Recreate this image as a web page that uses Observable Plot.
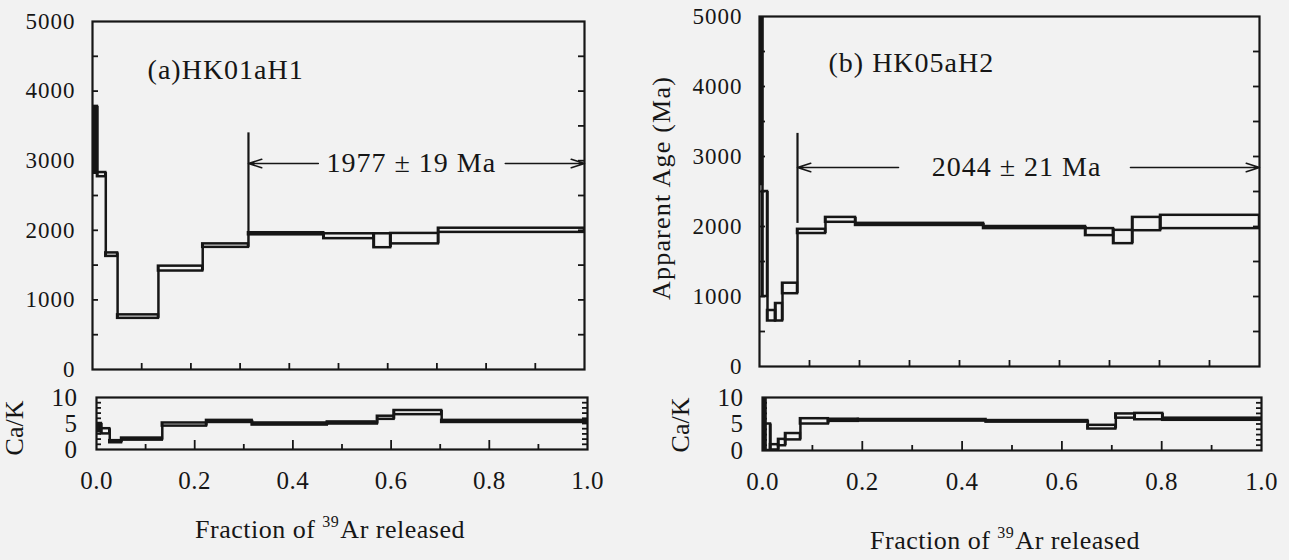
<!DOCTYPE html>
<html>
<head>
<meta charset="utf-8">
<script src="https://cdn.jsdelivr.net/npm/d3@7"></script>
<script src="https://cdn.jsdelivr.net/npm/@observablehq/plot@0.6"></script>
<style>
html, body { margin: 0; padding: 0; background: #f2f2f2; }
#root { position: relative; width: 1289px; height: 560px; overflow: hidden; background: #f2f2f2;
        font-family: "Liberation Serif", "Times New Roman", serif; color: #161616; }
.panel { position: absolute; }
.lbl { position: absolute; white-space: nowrap; font-size: 26px; line-height: 1; }
.lbl sup { font-size: 16px; vertical-align: 0; position: relative; top: -11px; margin-right: 1px; }
</style>
</head>
<body>
<div id="root"></div>
<script>
// ---------------- data ----------------
// (a) HK01aH1 : step boundaries (cumulative fraction of 39Ar released)
const stepsA   = [0, 0.010, 0.027, 0.051, 0.134, 0.224, 0.317, 0.470, 0.572, 0.606, 0.703, 1.0];
const ageA     = [3300, 2800, 1650, 760, 1450, 1780, 1950, 1915, 1850, 1880, 2000];
const ageErrA  = [480, 30, 25, 25, 35, 25, 15, 35, 100, 75, 30];
const cakA     = [4.2, 3.5, 1.5, 2.0, 4.8, 5.4, 4.9, 5.1, 6.1, 7.1, 5.4];
const cakErrA  = [0.8, 0.5, 0.2, 0.2, 0.3, 0.2, 0.2, 0.2, 0.3, 0.4, 0.2];
const plateauA = {start: 0.317, end: 1.0, age: 1977, err: 19};

// (b) HK05aH2
const stepsB   = [0, 0.006, 0.016, 0.032, 0.046, 0.076, 0.132, 0.192, 0.448, 0.652, 0.708, 0.746, 0.802, 1.0];
const ageB     = [4300, 1750, 725, 775, 1115, 1930, 2095, 2030, 1985, 1920, 1850, 2035, 2065];
const ageErrB  = [1700, 750, 75, 125, 75, 30, 35, 15, 15, 50, 95, 95, 95];
const cakB     = [5.0, 2.5, 0.6, 1.5, 2.6, 5.5, 5.7, 5.7, 5.5, 4.4, 6.5, 6.4, 5.9];
const cakErrB  = [5.0, 2.5, 0.5, 0.6, 0.6, 0.5, 0.2, 0.15, 0.15, 0.35, 0.4, 0.6, 0.2];
const plateauB = {start: 0.076, end: 1.0, age: 2044, err: 21};

const samples   = ["(a)HK01aH1", "(b) HK05aH2"];
const ageTicks  = [0, 1000, 2000, 3000, 4000, 5000];
const cakTicks  = [0, 5, 10];
const fracTicks = [0, 0.2, 0.4, 0.6, 0.8, 1.0];

// ---------------- helpers ----------------
const INK = "#161616";
const FONT = "Liberation Serif, Times New Roman, serif";

function boxes(bounds, val, err) {
  return val.map((v, i) => ({x1: bounds[i], x2: bounds[i + 1], lo: v - err[i], hi: v + err[i], first: i === 0}));
}
function links(b) {
  const out = [];
  for (let i = 1; i < b.length; i++) {
    out.push({x: b[i].x1, lo: Math.min(b[i - 1].lo, b[i].lo), hi: Math.max(b[i - 1].hi, b[i].hi)});
  }
  return out;
}
// inward tick marks drawn as inset ticks inside the frame
function inTicksY(values, side, size, fw) {
  return Plot.tickY(values, {y: d => d, stroke: INK, strokeWidth: 1.8,
    insetRight: side === "left" ? fw - size : 0, insetLeft: side === "right" ? fw - size : 0});
}
function inTicksX(values, size, fh) {
  return Plot.tickX(values, {x: d => d, stroke: INK, strokeWidth: 1.8, insetTop: fh - size});
}

function agePanel(o) {
  const b = boxes(o.bounds, o.val, o.err);
  const ann = [{...o.plateau, ...o.ann}];
  const fw = o.width - o.ml - o.mr, fh = o.height - o.mt - o.mb;
  return Plot.plot({
    width: o.width, height: o.height,
    marginLeft: o.ml, marginRight: o.mr, marginTop: o.mt, marginBottom: o.mb,
    style: {background: "transparent", color: INK, fontFamily: FONT, fontSize: "23px", letterSpacing: "1px", overflow: "visible"},
    x: {domain: [0, 1], axis: null},
    y: {domain: [0, 5000]},
    marks: [
      Plot.axisY(ageTicks, {anchor: "left", tickSize: 0, tickPadding: 17, tickFormat: d => String(d), label: null}),
      inTicksY(d3.range(500, 5000, 500), "left", 6, fw),
      inTicksY(d3.range(500, 5000, 500), "right", 6, fw),
      inTicksX(d3.range(0.1, 1.0, 0.1), 6, fh),
      Plot.rect(b, {x1: "x1", x2: "x2", y1: "lo", y2: "hi", stroke: INK, strokeWidth: 2.5,
                    fill: d => d.first ? INK : "none", clip: true}),
      Plot.ruleX(links(b), {x: "x", y1: "lo", y2: "hi", stroke: INK, strokeWidth: 2.5, clip: true}),
      Plot.ruleX(ann, {x: "start", y1: "age", y2: "top", stroke: INK, strokeWidth: 2.2}),
      Plot.arrow(ann, {x1: "gapL", x2: "start", y1: "arrowAge", y2: "arrowAge", stroke: INK, strokeWidth: 1.6, headLength: 13, headAngle: 35}),
      Plot.arrow(ann, {x1: "gapR", x2: "end", y1: "arrowAge", y2: "arrowAge", stroke: INK, strokeWidth: 1.6, headLength: 13, headAngle: 35}),
      Plot.text(ann, {x: "labelX", y: "arrowAge", text: d => `${d.age} ± ${d.err} Ma`, fontSize: 28, fill: INK}),
      Plot.text([o.title], {x: o.ann.titleX, y: o.ann.titleAge, text: d => d, textAnchor: "start", fontSize: 28, fill: INK}),
      Plot.frame({stroke: INK, strokeWidth: 2.2})
    ]
  });
}

function cakPanel(o) {
  const b = boxes(o.bounds, o.val, o.err);
  const fw = o.width - o.ml - o.mr, fh = o.height - o.mt - o.mb;
  return Plot.plot({
    width: o.width, height: o.height,
    marginLeft: o.ml, marginRight: o.mr, marginTop: o.mt, marginBottom: o.mb,
    style: {background: "transparent", color: INK, fontFamily: FONT, fontSize: "25px", letterSpacing: "0.5px", overflow: "visible"},
    x: {domain: [0, 1]},
    y: {domain: [0, 10]},
    marks: [
      Plot.axisY(cakTicks, {anchor: "left", tickSize: 0, tickPadding: 19, label: null}),
      inTicksY(d3.range(1, 10, 1), "left", 5, fw),
      inTicksY(d3.range(1, 10, 1), "right", 5, fw),
      inTicksX(d3.range(0.1, 1.0, 0.2), 5, fh),
      inTicksX(fracTicks.slice(1, -1), 9, fh),
      Plot.axisX(fracTicks, {anchor: "bottom", tickSize: 0, tickPadding: 22, tickFormat: d3.format(".1f"), label: null}),
      Plot.rect(b, {x1: "x1", x2: "x2", y1: "lo", y2: "hi", stroke: INK, strokeWidth: 2.5,
                    fill: d => d.first ? INK : "none", clip: true}),
      Plot.ruleX(links(b), {x: "x", y1: "lo", y2: "hi", stroke: INK, strokeWidth: 2.5, clip: true}),
      Plot.frame({stroke: INK, strokeWidth: 2.2})
    ]
  });
}

// ---------------- layout ----------------
const root = document.getElementById("root");
function place(node, left, top) {
  node.classList.add("panel");
  node.style.left = left + "px";
  node.style.top = top + "px";
  root.appendChild(node);
}
function label(html, x, y, rotate, extra) {
  const d = document.createElement("div");
  d.className = "lbl";
  d.innerHTML = html;
  d.style.left = x + "px";
  d.style.top = y + "px";
  d.style.transform = "translate(-50%, -50%)" + (rotate ? " rotate(-90deg)" : "");
  if (extra) Object.assign(d.style, extra);
  root.appendChild(d);
}

place(agePanel({
  bounds: stepsA, val: ageA, err: ageErrA, plateau: plateauA, title: samples[0],
  ann: {top: 3400, arrowAge: 2960, gapL: 0.459, gapR: 0.839, labelX: 0.648, titleX: 0.112, titleAge: 4300},
  width: 600, height: 380, ml: 92, mr: 16, mt: 21, mb: 11
}), 0, 0);

place(cakPanel({
  bounds: stepsA, val: cakA, err: cakErrA,
  width: 600, height: 125, ml: 96, mr: 13, mt: 17, mb: 56
}), 0, 380);

place(agePanel({
  bounds: stepsB, val: ageB, err: ageErrB, plateau: plateauB, title: samples[1],
  ann: {top: 3330, arrowAge: 2843, gapL: 0.278, gapR: 0.742, labelX: 0.514, titleX: 0.138, titleAge: 4340},
  width: 649, height: 380, ml: 119, mr: 30, mt: 16, mb: 14
}), 640, 0);

place(cakPanel({
  bounds: stepsB, val: cakB, err: cakErrB,
  width: 649, height: 125, ml: 122, mr: 28, mt: 17, mb: 55
}), 640, 380);

// axis titles
label("Ca/K", 15, 428, true);
label("Ca/K", 681, 425, true);
label("Apparent Age (Ma)", 662, 188, true, {letterSpacing: "1.2px"});
label("Fraction of <sup>39</sup>Ar released", 330, 530, false, {letterSpacing: "0.5px"});
label("Fraction of <sup>39</sup>Ar released", 1005, 541, false, {letterSpacing: "0.5px"});
</script>
</body>
</html>
